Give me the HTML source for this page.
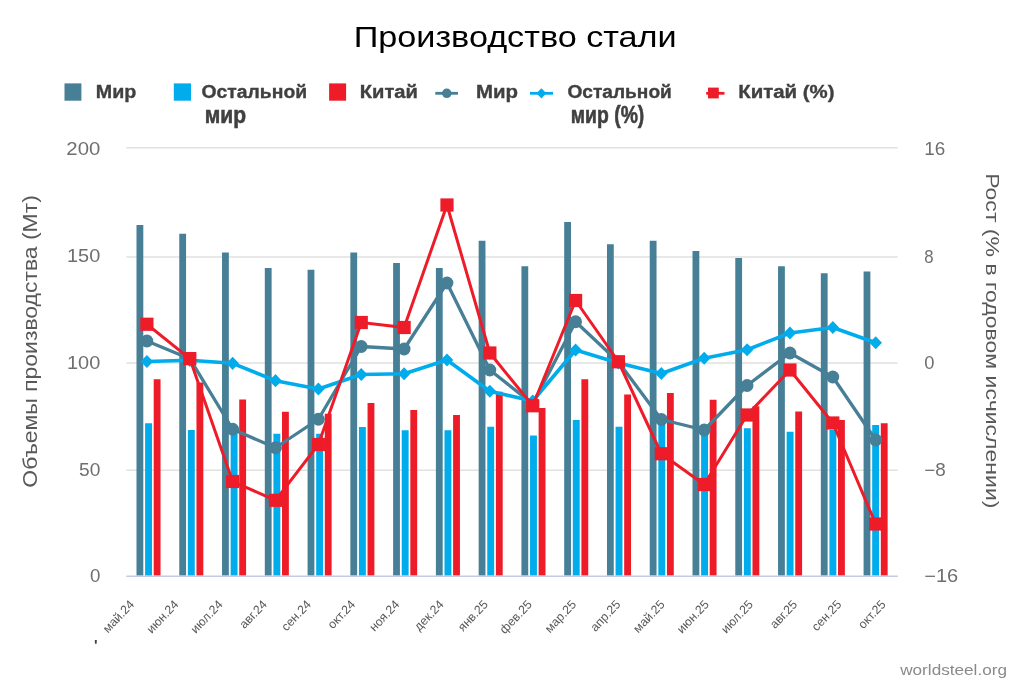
<!DOCTYPE html>
<html lang="ru"><head><meta charset="utf-8"><title>Производство стали</title>
<style>html,body{margin:0;padding:0;background:#fff}body{width:1024px;height:683px;overflow:hidden}svg{display:block}text{font-family:"Liberation Sans",sans-serif}</style></head><body>
<svg width="1024" height="683" viewBox="0 0 1024 683">
<rect width="1024" height="683" fill="#fff"/>
<line x1="126.3" x2="897.8" y1="147.7" y2="147.7" stroke="#e1e1e1" stroke-width="1.5"/>
<line x1="126.3" x2="897.8" y1="256.9" y2="256.9" stroke="#e1e1e1" stroke-width="1.5"/>
<line x1="126.3" x2="897.8" y1="362.9" y2="362.9" stroke="#e1e1e1" stroke-width="1.5"/>
<line x1="126.3" x2="897.8" y1="470.3" y2="470.3" stroke="#e1e1e1" stroke-width="1.5"/>
<rect x="136.50" y="225" width="6.8" height="350.60" fill="#467F96"/>
<rect x="145.10" y="423.25" width="6.9" height="152.35" fill="#00ACEC"/>
<rect x="153.70" y="379.25" width="6.85" height="196.35" fill="#EE1C29"/>
<rect x="179.27" y="233.75" width="6.8" height="341.85" fill="#467F96"/>
<rect x="187.87" y="430" width="6.9" height="145.60" fill="#00ACEC"/>
<rect x="196.47" y="382.5" width="6.85" height="193.10" fill="#EE1C29"/>
<rect x="222.04" y="252.5" width="6.8" height="323.10" fill="#467F96"/>
<rect x="230.64" y="427.4" width="6.9" height="148.20" fill="#00ACEC"/>
<rect x="239.24" y="399.5" width="6.85" height="176.10" fill="#EE1C29"/>
<rect x="264.81" y="268" width="6.8" height="307.60" fill="#467F96"/>
<rect x="273.41" y="433.75" width="6.9" height="141.85" fill="#00ACEC"/>
<rect x="282.01" y="411.75" width="6.85" height="163.85" fill="#EE1C29"/>
<rect x="307.58" y="269.75" width="6.8" height="305.85" fill="#467F96"/>
<rect x="316.18" y="433.75" width="6.9" height="141.85" fill="#00ACEC"/>
<rect x="324.78" y="413.75" width="6.85" height="161.85" fill="#EE1C29"/>
<rect x="350.35" y="252.5" width="6.8" height="323.10" fill="#467F96"/>
<rect x="358.95" y="427" width="6.9" height="148.60" fill="#00ACEC"/>
<rect x="367.55" y="403" width="6.85" height="172.60" fill="#EE1C29"/>
<rect x="393.12" y="263" width="6.8" height="312.60" fill="#467F96"/>
<rect x="401.72" y="430.25" width="6.9" height="145.35" fill="#00ACEC"/>
<rect x="410.32" y="410" width="6.85" height="165.60" fill="#EE1C29"/>
<rect x="435.89" y="268" width="6.8" height="307.60" fill="#467F96"/>
<rect x="444.49" y="430.25" width="6.9" height="145.35" fill="#00ACEC"/>
<rect x="453.09" y="415" width="6.85" height="160.60" fill="#EE1C29"/>
<rect x="478.66" y="240.75" width="6.8" height="334.85" fill="#467F96"/>
<rect x="487.26" y="426.75" width="6.9" height="148.85" fill="#00ACEC"/>
<rect x="495.86" y="391.75" width="6.85" height="183.85" fill="#EE1C29"/>
<rect x="521.43" y="266.25" width="6.8" height="309.35" fill="#467F96"/>
<rect x="530.03" y="435.5" width="6.9" height="140.10" fill="#00ACEC"/>
<rect x="538.63" y="408" width="6.85" height="167.60" fill="#EE1C29"/>
<rect x="564.20" y="222" width="6.8" height="353.60" fill="#467F96"/>
<rect x="572.80" y="420" width="6.9" height="155.60" fill="#00ACEC"/>
<rect x="581.40" y="379.25" width="6.85" height="196.35" fill="#EE1C29"/>
<rect x="606.97" y="244.25" width="6.8" height="331.35" fill="#467F96"/>
<rect x="615.57" y="426.75" width="6.9" height="148.85" fill="#00ACEC"/>
<rect x="624.17" y="394.5" width="6.85" height="181.10" fill="#EE1C29"/>
<rect x="649.74" y="240.75" width="6.8" height="334.85" fill="#467F96"/>
<rect x="658.34" y="424" width="6.9" height="151.60" fill="#00ACEC"/>
<rect x="666.94" y="393" width="6.85" height="182.60" fill="#EE1C29"/>
<rect x="692.51" y="251" width="6.8" height="324.60" fill="#467F96"/>
<rect x="701.11" y="427.6" width="6.9" height="148.00" fill="#00ACEC"/>
<rect x="709.71" y="399.75" width="6.85" height="175.85" fill="#EE1C29"/>
<rect x="735.28" y="258" width="6.8" height="317.60" fill="#467F96"/>
<rect x="743.88" y="428.25" width="6.9" height="147.35" fill="#00ACEC"/>
<rect x="752.48" y="406.25" width="6.85" height="169.35" fill="#EE1C29"/>
<rect x="778.05" y="266.25" width="6.8" height="309.35" fill="#467F96"/>
<rect x="786.65" y="431.75" width="6.9" height="143.85" fill="#00ACEC"/>
<rect x="795.25" y="411.5" width="6.85" height="164.10" fill="#EE1C29"/>
<rect x="820.82" y="273.25" width="6.8" height="302.35" fill="#467F96"/>
<rect x="829.42" y="430" width="6.9" height="145.60" fill="#00ACEC"/>
<rect x="838.02" y="420" width="6.85" height="155.60" fill="#EE1C29"/>
<rect x="863.59" y="271.5" width="6.8" height="304.10" fill="#467F96"/>
<rect x="872.19" y="425" width="6.9" height="150.60" fill="#00ACEC"/>
<rect x="880.79" y="423.25" width="6.85" height="152.35" fill="#EE1C29"/>
<line x1="126.3" x2="897.8" y1="576.3" y2="576.3" stroke="#c3cbe6" stroke-width="1.6"/>
<polyline points="146.90,341 189.77,358.7 232.64,429.25 275.51,447.75 318.38,419.25 361.25,346.5 404.12,349 446.99,283 489.86,370 532.73,404 575.60,321.75 618.47,362 661.34,419.5 704.21,430 747.08,385.5 789.95,353 832.82,377 875.69,440" fill="none" stroke="#467F96" stroke-width="3.3" stroke-linejoin="round" stroke-linecap="round"/>
<circle cx="146.90" cy="341" r="6.4" fill="#467F96"/>
<circle cx="189.77" cy="358.7" r="6.4" fill="#467F96"/>
<circle cx="232.64" cy="429.25" r="6.4" fill="#467F96"/>
<circle cx="275.51" cy="447.75" r="6.4" fill="#467F96"/>
<circle cx="318.38" cy="419.25" r="6.4" fill="#467F96"/>
<circle cx="361.25" cy="346.5" r="6.4" fill="#467F96"/>
<circle cx="404.12" cy="349" r="6.4" fill="#467F96"/>
<circle cx="446.99" cy="283" r="6.4" fill="#467F96"/>
<circle cx="489.86" cy="370" r="6.4" fill="#467F96"/>
<circle cx="532.73" cy="404" r="6.4" fill="#467F96"/>
<circle cx="575.60" cy="321.75" r="6.4" fill="#467F96"/>
<circle cx="618.47" cy="362" r="6.4" fill="#467F96"/>
<circle cx="661.34" cy="419.5" r="6.4" fill="#467F96"/>
<circle cx="704.21" cy="430" r="6.4" fill="#467F96"/>
<circle cx="747.08" cy="385.5" r="6.4" fill="#467F96"/>
<circle cx="789.95" cy="353" r="6.4" fill="#467F96"/>
<circle cx="832.82" cy="377" r="6.4" fill="#467F96"/>
<circle cx="875.69" cy="440" r="6.4" fill="#467F96"/>
<polyline points="146.90,361.5 189.77,360.3 232.64,363.3 275.51,380.7 318.38,389 361.25,374.5 404.12,373.75 446.99,360 489.86,391.25 532.73,401 575.60,350 618.47,363 661.34,373.5 704.21,358.25 747.08,349.75 789.95,333 832.82,327.5 875.69,342.75" fill="none" stroke="#00ACEC" stroke-width="3.6" stroke-linejoin="round" stroke-linecap="round"/>
<path d="M140.60 361.5L146.90 354.9L153.20 361.5L146.90 368.1Z" fill="#00ACEC"/>
<path d="M183.47 360.3L189.77 353.7L196.07 360.3L189.77 366.90000000000003Z" fill="#00ACEC"/>
<path d="M226.34 363.3L232.64 356.7L238.94 363.3L232.64 369.90000000000003Z" fill="#00ACEC"/>
<path d="M269.21 380.7L275.51 374.09999999999997L281.81 380.7L275.51 387.3Z" fill="#00ACEC"/>
<path d="M312.08 389L318.38 382.4L324.68 389L318.38 395.6Z" fill="#00ACEC"/>
<path d="M354.95 374.5L361.25 367.9L367.55 374.5L361.25 381.1Z" fill="#00ACEC"/>
<path d="M397.82 373.75L404.12 367.15L410.42 373.75L404.12 380.35Z" fill="#00ACEC"/>
<path d="M440.69 360L446.99 353.4L453.29 360L446.99 366.6Z" fill="#00ACEC"/>
<path d="M483.56 391.25L489.86 384.65L496.16 391.25L489.86 397.85Z" fill="#00ACEC"/>
<path d="M526.43 401L532.73 394.4L539.03 401L532.73 407.6Z" fill="#00ACEC"/>
<path d="M569.30 350L575.60 343.4L581.90 350L575.60 356.6Z" fill="#00ACEC"/>
<path d="M612.17 363L618.47 356.4L624.77 363L618.47 369.6Z" fill="#00ACEC"/>
<path d="M655.04 373.5L661.34 366.9L667.64 373.5L661.34 380.1Z" fill="#00ACEC"/>
<path d="M697.91 358.25L704.21 351.65L710.51 358.25L704.21 364.85Z" fill="#00ACEC"/>
<path d="M740.78 349.75L747.08 343.15L753.38 349.75L747.08 356.35Z" fill="#00ACEC"/>
<path d="M783.65 333L789.95 326.4L796.25 333L789.95 339.6Z" fill="#00ACEC"/>
<path d="M826.52 327.5L832.82 320.9L839.12 327.5L832.82 334.1Z" fill="#00ACEC"/>
<path d="M869.39 342.75L875.69 336.15L881.99 342.75L875.69 349.35Z" fill="#00ACEC"/>
<polyline points="146.90,324.25 189.77,358.6 232.64,481.5 275.51,500.3 318.38,444.5 361.25,322.5 404.12,327.5 446.99,205 489.86,353 532.73,405.75 575.60,300.5 618.47,361.75 661.34,453.75 704.21,484.5 747.08,415 789.95,370 832.82,423 875.69,524" fill="none" stroke="#EE1C29" stroke-width="3.0" stroke-linejoin="round" stroke-linecap="round"/>
<rect x="140.30" y="317.65" width="13.2" height="13.2" fill="#EE1C29"/>
<rect x="183.17" y="352.00" width="13.2" height="13.2" fill="#EE1C29"/>
<rect x="226.04" y="474.90" width="13.2" height="13.2" fill="#EE1C29"/>
<rect x="268.91" y="493.70" width="13.2" height="13.2" fill="#EE1C29"/>
<rect x="311.78" y="437.90" width="13.2" height="13.2" fill="#EE1C29"/>
<rect x="354.65" y="315.90" width="13.2" height="13.2" fill="#EE1C29"/>
<rect x="397.52" y="320.90" width="13.2" height="13.2" fill="#EE1C29"/>
<rect x="440.39" y="198.40" width="13.2" height="13.2" fill="#EE1C29"/>
<rect x="483.26" y="346.40" width="13.2" height="13.2" fill="#EE1C29"/>
<rect x="526.13" y="399.15" width="13.2" height="13.2" fill="#EE1C29"/>
<rect x="569.00" y="293.90" width="13.2" height="13.2" fill="#EE1C29"/>
<rect x="611.87" y="355.15" width="13.2" height="13.2" fill="#EE1C29"/>
<rect x="654.74" y="447.15" width="13.2" height="13.2" fill="#EE1C29"/>
<rect x="697.61" y="477.90" width="13.2" height="13.2" fill="#EE1C29"/>
<rect x="740.48" y="408.40" width="13.2" height="13.2" fill="#EE1C29"/>
<rect x="783.35" y="363.40" width="13.2" height="13.2" fill="#EE1C29"/>
<rect x="826.22" y="416.40" width="13.2" height="13.2" fill="#EE1C29"/>
<rect x="869.09" y="517.40" width="13.2" height="13.2" fill="#EE1C29"/>
<text x="353.7" y="46.9" font-size="30" fill="#000" textLength="323" lengthAdjust="spacingAndGlyphs">Производство стали</text>
<rect x="64.5" y="83.4" width="16.9" height="17.3" fill="#467F96"/>
<text x="95.8" y="98.4" font-size="18.3" font-weight="bold" fill="#404040" stroke="#404040" stroke-width="0.35" textLength="40.5" lengthAdjust="spacingAndGlyphs">Мир</text>
<rect x="173.8" y="83.4" width="17.2" height="17.3" fill="#00ACEC"/>
<text x="201.6" y="98.4" font-size="18.3" font-weight="bold" fill="#404040" stroke="#404040" stroke-width="0.35" textLength="105.5" lengthAdjust="spacingAndGlyphs">Остальной</text>
<text x="204.7" y="122.5" font-size="24.6" font-weight="bold" fill="#404040" stroke="#404040" stroke-width="0.6" textLength="41.3" lengthAdjust="spacingAndGlyphs">мир</text>
<rect x="329.1" y="83.4" width="17" height="17.3" fill="#EE1C29"/>
<text x="359.8" y="98.4" font-size="18.3" font-weight="bold" fill="#404040" stroke="#404040" stroke-width="0.35" textLength="58.2" lengthAdjust="spacingAndGlyphs">Китай</text>
<line x1="435.3" x2="458" y1="93.3" y2="93.3" stroke="#467F96" stroke-width="2.8"/><circle cx="446.8" cy="93.3" r="4.8" fill="#467F96"/>
<text x="476" y="98.4" font-size="18.3" font-weight="bold" fill="#404040" stroke="#404040" stroke-width="0.35" textLength="42" lengthAdjust="spacingAndGlyphs">Мир</text>
<line x1="530" x2="553" y1="93.3" y2="93.3" stroke="#00ACEC" stroke-width="2.8"/><path d="M536.5 93.3L541.4 88.2L546.3 93.3L541.4 98.4Z" fill="#00ACEC"/>
<text x="567.5" y="98.4" font-size="18.3" font-weight="bold" fill="#404040" stroke="#404040" stroke-width="0.35" textLength="104.3" lengthAdjust="spacingAndGlyphs">Остальной</text>
<text x="570.8" y="122.5" font-size="24.6" font-weight="bold" fill="#404040" stroke="#404040" stroke-width="0.6" textLength="73.5" lengthAdjust="spacingAndGlyphs">мир (%)</text>
<line x1="706.2" x2="724.5" y1="93.3" y2="93.3" stroke="#EE1C29" stroke-width="2.8"/><rect x="708" y="87.6" width="10.8" height="10.8" fill="#EE1C29"/>
<text x="738.2" y="98.4" font-size="18.3" font-weight="bold" fill="#404040" stroke="#404040" stroke-width="0.35" textLength="96.3" lengthAdjust="spacingAndGlyphs">Китай (%)</text>
<text x="66.3" y="154.9" font-size="17.8" fill="#6f6f6f" textLength="34" lengthAdjust="spacingAndGlyphs">200</text>
<text x="67.0" y="261.8" font-size="17.8" fill="#6f6f6f" textLength="33.3" lengthAdjust="spacingAndGlyphs">150</text>
<text x="67.0" y="368.9" font-size="17.8" fill="#6f6f6f" textLength="33.3" lengthAdjust="spacingAndGlyphs">100</text>
<text x="79.0" y="475.59999999999997" font-size="17.8" fill="#6f6f6f" textLength="21.3" lengthAdjust="spacingAndGlyphs">50</text>
<text x="89.89999999999999" y="581.6" font-size="17.8" fill="#6f6f6f" textLength="10.4" lengthAdjust="spacingAndGlyphs">0</text>
<text x="924.2" y="154.7" font-size="17.8" fill="#6f6f6f" textLength="21" lengthAdjust="spacingAndGlyphs">16</text>
<text x="924.2" y="263.4" font-size="17.8" fill="#6f6f6f" textLength="9.3" lengthAdjust="spacingAndGlyphs">8</text>
<text x="924.2" y="369.1" font-size="17.8" fill="#6f6f6f" textLength="10.2" lengthAdjust="spacingAndGlyphs">0</text>
<text x="924.2" y="476.3" font-size="17.8" fill="#6f6f6f" textLength="21.5" lengthAdjust="spacingAndGlyphs">−8</text>
<text x="924.2" y="582.2" font-size="17.8" fill="#6f6f6f" textLength="34" lengthAdjust="spacingAndGlyphs">−16</text>
<text transform="translate(37.4 487.7) rotate(-90)" font-size="19.5" fill="#595959" textLength="292.5" lengthAdjust="spacingAndGlyphs">Объемы производства (Мт)</text>
<text transform="translate(985.6 173.2) rotate(90)" font-size="18.5" fill="#595959" textLength="335.3" lengthAdjust="spacingAndGlyphs">Рост (% в годовом исчислении)</text>
<text transform="translate(135.0 605) rotate(-46.5)" font-size="12.3" fill="#595959" text-anchor="end">май.24</text>
<text transform="translate(179.2 605) rotate(-46.5)" font-size="12.3" fill="#595959" text-anchor="end">июн.24</text>
<text transform="translate(223.4 605) rotate(-46.5)" font-size="12.3" fill="#595959" text-anchor="end">июл.24</text>
<text transform="translate(267.6 605) rotate(-46.5)" font-size="12.3" fill="#595959" text-anchor="end">авг.24</text>
<text transform="translate(311.8 605) rotate(-46.5)" font-size="12.3" fill="#595959" text-anchor="end">сен.24</text>
<text transform="translate(356.0 605) rotate(-46.5)" font-size="12.3" fill="#595959" text-anchor="end">окт.24</text>
<text transform="translate(400.2 605) rotate(-46.5)" font-size="12.3" fill="#595959" text-anchor="end">ноя.24</text>
<text transform="translate(444.4 605) rotate(-46.5)" font-size="12.3" fill="#595959" text-anchor="end">дек.24</text>
<text transform="translate(488.6 605) rotate(-46.5)" font-size="12.3" fill="#595959" text-anchor="end">янв.25</text>
<text transform="translate(532.8 605) rotate(-46.5)" font-size="12.3" fill="#595959" text-anchor="end">фев.25</text>
<text transform="translate(577.0 605) rotate(-46.5)" font-size="12.3" fill="#595959" text-anchor="end">мар.25</text>
<text transform="translate(621.2 605) rotate(-46.5)" font-size="12.3" fill="#595959" text-anchor="end">апр.25</text>
<text transform="translate(665.4 605) rotate(-46.5)" font-size="12.3" fill="#595959" text-anchor="end">май.25</text>
<text transform="translate(709.6 605) rotate(-46.5)" font-size="12.3" fill="#595959" text-anchor="end">июн.25</text>
<text transform="translate(753.8 605) rotate(-46.5)" font-size="12.3" fill="#595959" text-anchor="end">июл.25</text>
<text transform="translate(798.0 605) rotate(-46.5)" font-size="12.3" fill="#595959" text-anchor="end">авг.25</text>
<text transform="translate(842.2 605) rotate(-46.5)" font-size="12.3" fill="#595959" text-anchor="end">сен.25</text>
<text transform="translate(886.4 605) rotate(-46.5)" font-size="12.3" fill="#595959" text-anchor="end">окт.25</text>
<text x="94" y="650" font-size="15" font-weight="bold" fill="#404040">'</text>
<text x="900.2" y="674.6" font-size="15.5" fill="#8a8a8a" textLength="106.8" lengthAdjust="spacingAndGlyphs">worldsteel.org</text>
</svg></body></html>
